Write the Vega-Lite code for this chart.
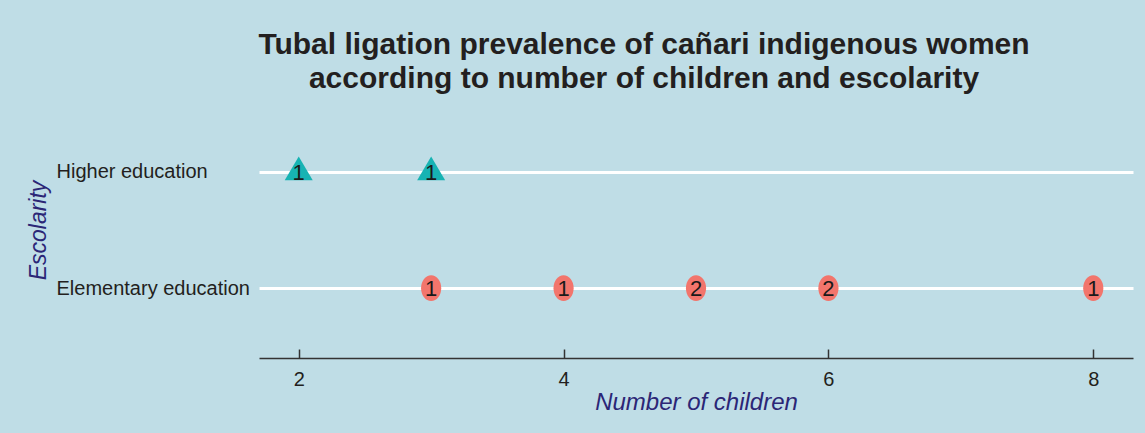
{
  "$schema": "https://vega.github.io/schema/vega-lite/v6.json",
  "width": 874,
  "height": 256,
  "autosize": {"type": "none"},
  "padding": {"left": 259, "top": 102, "right": 12, "bottom": 75},
  "background": "#BFDDE6",
  "title": {
    "text": ["Tubal ligation prevalence of cañari indigenous women", "according to number of children and escolarity"],
    "font": "Liberation Sans",
    "fontSize": 30,
    "fontWeight": "bold",
    "color": "#231F20",
    "anchor": "middle",
    "frame": "group",
    "dx": -52,
    "offset": 8,
    "lineHeight": 34
  },
  "data": {
    "values": [
      {"escolarity": "Higher education", "children": 2, "n": 1},
      {"escolarity": "Higher education", "children": 3, "n": 1},
      {"escolarity": "Elementary education", "children": 3, "n": 1},
      {"escolarity": "Elementary education", "children": 4, "n": 1},
      {"escolarity": "Elementary education", "children": 5, "n": 2},
      {"escolarity": "Elementary education", "children": 6, "n": 2},
      {"escolarity": "Elementary education", "children": 8, "n": 1}
    ]
  },
  "encoding": {
    "x": {
      "field": "children",
      "type": "quantitative",
      "scale": {"domain": [1.7, 8.3], "nice": false, "zero": false},
      "axis": {
        "values": [2, 4, 6, 8],
        "title": "Number of children",
        "grid": false,
        "domainColor": "#333333",
        "domainWidth": 1.5,
        "tickColor": "#333333",
        "tickWidth": 1.5,
        "tickSize": -9,
        "labelFont": "Liberation Sans",
        "labelFontSize": 20,
        "labelColor": "#231F20",
        "labelPadding": 20,
        "titleFont": "Liberation Sans",
        "titleFontSize": 24,
        "titleFontStyle": "italic",
        "titleFontWeight": "normal",
        "titleColor": "#2B2676",
        "titlePadding": 1
      }
    },
    "y": {
      "field": "escolarity",
      "type": "nominal",
      "sort": ["Higher education", "Elementary education"],
      "scale": {"type": "point", "padding": 0.6},
      "axis": {
        "title": "Escolarity",
        "domain": false,
        "ticks": false,
        "tickSize": 0,
        "grid": true,
        "gridColor": "#FFFFFF",
        "gridWidth": 3,
        "labelAlign": "left",
        "labelPadding": 203,
        "labelLimit": 400,
        "labelFont": "Liberation Sans",
        "labelFontSize": 20,
        "labelColor": "#231F20",
        "titleFont": "Liberation Sans",
        "titleFontSize": 23,
        "titleFontStyle": "italic",
        "titleFontWeight": "normal",
        "titleColor": "#2B2676",
        "titlePadding": 9
      }
    }
  },
  "layer": [
    {
      "mark": {"type": "point", "filled": true, "opacity": 1, "size": 784},
      "encoding": {
        "shape": {
          "field": "escolarity",
          "type": "nominal",
          "scale": {
            "domain": ["Higher education", "Elementary education"],
            "range": ["M0,-1.1L1,0.6L-1,0.6Z", "M0,-0.92A0.72,0.92 0 1,1 0,0.92A0.72,0.92 0 1,1 0,-0.92Z"]
          },
          "legend": null
        },
        "color": {
          "field": "escolarity",
          "type": "nominal",
          "scale": {
            "domain": ["Higher education", "Elementary education"],
            "range": ["#17B3B3", "#F2756C"]
          },
          "legend": null
        }
      }
    },
    {
      "mark": {"type": "text", "font": "Liberation Sans", "fontSize": 22, "color": "#1A1A1A", "baseline": "middle", "dy": 1},
      "encoding": {"text": {"field": "n", "type": "quantitative"}}
    }
  ],
  "config": {"view": {"stroke": null}}
}
